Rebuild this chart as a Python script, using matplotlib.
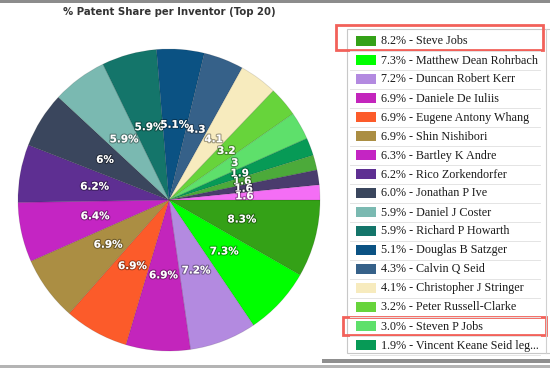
import numpy as np
import matplotlib
matplotlib.use("Agg")
import matplotlib.pyplot as plt
import matplotlib.patheffects as pe
from matplotlib.patches import Rectangle

# pie slices (clockwise from 3 o'clock)
shares = [8.3, 7.3, 7.2, 6.9, 6.9, 6.9, 6.4, 6.2, 6.0, 5.9,
          5.9, 5.1, 4.3, 4.1, 3.2, 3.0, 1.9, 1.6, 1.6, 1.6]
pie_labels = ["8.3%", "7.3%", "7.2%", "6.9%", "6.9%", "6.9%", "6.4%", "6.2%", "6%", "5.9%",
              "5.9%", "5.1%", "4.3", "4.1", "3.2", "3", "1.9", "1.6", "1.6", "1.6"]
colors = ["#34a117", "#00ff00", "#b38ae0", "#c325bc", "#fc5b2a", "#ab8e43", "#c425c3", "#5e2f92",
          "#3a465d", "#7ab9b1", "#14756a", "#0b5283", "#366189", "#f7ebbe", "#67d43b", "#5ee06b",
          "#079a56", "#4caa3a", "#4a3c6d", "#f46ef5"]

# legend list (only the visible rows of the scroll box)
legend_pct = ["8.2%", "7.3%", "7.2%", "6.9%", "6.9%", "6.9%", "6.3%", "6.2%", "6.0%",
              "5.9%", "5.9%", "5.1%", "4.3%", "4.1%", "3.2%", "3.0%", "1.9%"]
legend_names = ["Steve Jobs", "Matthew Dean Rohrbach", "Duncan Robert Kerr", "Daniele De Iuliis",
                "Eugene Antony Whang", "Shin Nishibori", "Bartley K Andre", "Rico Zorkendorfer",
                "Jonathan P Ive", "Daniel J Coster", "Richard P Howarth", "Douglas B Satzger",
                "Calvin Q Seid", "Christopher J Stringer", "Peter Russell-Clarke",
                "Steven P Jobs", "Vincent Keane Seid leg..."]

W, H = 550, 368
fig = plt.figure(figsize=(W / 100, H / 100), dpi=100)
fig.patch.set_facecolor("white")

# pie: centre (169,200) px, radius 151 px
cx, cy, r = 169, 200, 151
ax = fig.add_axes([(cx - r) / W, (H - cy - r) / H, 2 * r / W, 2 * r / H])
wedges, _ = ax.pie(shares, colors=colors, startangle=0, counterclock=False,
                   wedgeprops=dict(edgecolor=(0, 0, 0, 0.12), linewidth=0.6))
ax.set_xlim(-1, 1)
ax.set_ylim(-1, 1)
ax.set_aspect("auto")
ax.axis("off")

shadow = [pe.withStroke(linewidth=1.6, foreground=(0, 0, 0, 0.35))]
for w, lab in zip(wedges, pie_labels):
    ang = np.deg2rad((w.theta1 + w.theta2) / 2)
    ax.text(0.5 * np.cos(ang), 0.5 * np.sin(ang), lab, ha="center", va="center",
            color="white", fontsize=7.5, fontweight="bold", family="DejaVu Sans",
            path_effects=shadow)

# overlay in pixel coords for title, legend box, frame bits
ov = fig.add_axes([0, 0, 1, 1], zorder=5)
ov.set_xlim(0, W)
ov.set_ylim(H, 0)
ov.axis("off")
ov.patch.set_alpha(0)

ov.text(169, 12, "% Patent Share per Inventor (Top 20)", ha="center", va="center",
        fontsize=7.3, fontweight="bold", color="#333333", family="DejaVu Sans")

# top / bottom grey window lines
ov.add_patch(Rectangle((0, 0), W, 2.5, color="#8c8c8c", lw=0))
ov.add_patch(Rectangle((322, 358.5), W - 322, 4.5, color="#8f8f8f", lw=0))
ov.add_patch(Rectangle((0, 365), W, 3, color="#b4b4b4", lw=0))

# legend panel
ov.add_patch(Rectangle((347, 29), 205, 324, facecolor="white", edgecolor="#c8c8c8", lw=0.8))
ov.plot([546, 546], [29, 353], color="#d0d0d0", lw=0.8)

row0, step = 41, 19
for i, (p, n) in enumerate(zip(legend_pct, legend_names)):
    y = row0 + i * step
    ov.add_patch(Rectangle((356, y - 5), 20, 10, color=colors[i], lw=0))
    ov.text(381, y + 0.5, p + " - " + n, ha="left", va="center", fontsize=8.7,
            family="Liberation Serif", color="#1a1a1a")
    ov.plot([350, 540], [y + 9.5, y + 9.5], color="#e4e4e4", lw=0.7)

# red highlight boxes
ov.add_patch(Rectangle((336, 25), 207, 25, fill=False, edgecolor="#f2615a", lw=2))
ov.add_patch(Rectangle((343, 316.5), 203, 18, fill=False, edgecolor="#f2615a", lw=2))

fig.savefig("out.png", dpi=100)
